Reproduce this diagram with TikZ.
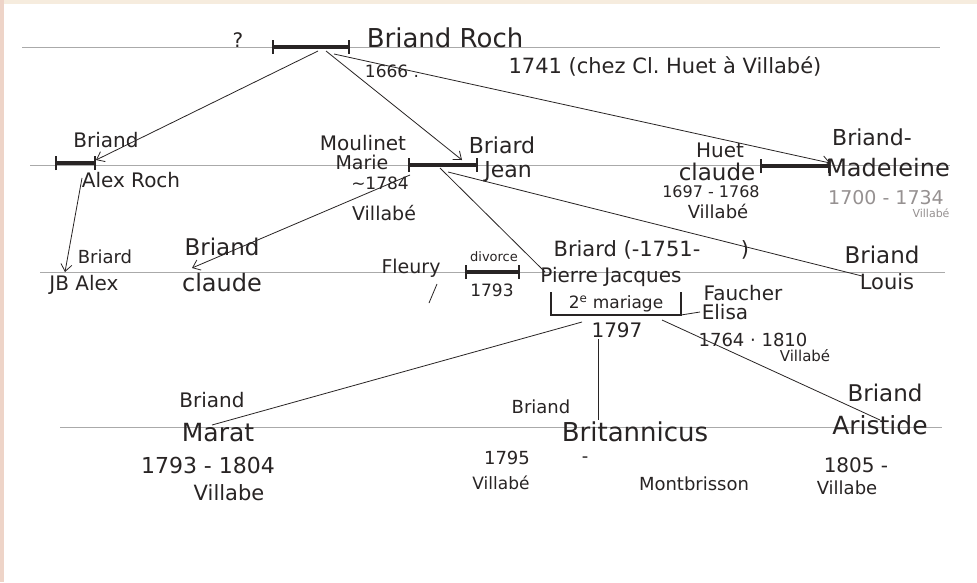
\documentclass[tikz,border=0pt]{standalone}
\usepackage{fontspec}
\setmainfont{DejaVu Sans}
\usetikzlibrary{arrows.meta}
\definecolor{paper}{RGB}{255,255,255}
\definecolor{edgeA}{RGB}{238,212,200}
\definecolor{edgeB}{RGB}{246,236,222}
\definecolor{guide}{RGB}{170,170,170}
\definecolor{ink}{RGB}{40,36,36}
\definecolor{faded}{RGB}{150,145,145}
\tikzset{
  nm/.style={inner sep=0pt, text=ink},
  fs/.style={font=\fontsize{#1}{#1}\selectfont},
  guideline/.style={draw=guide, line width=0.6pt},
  mbar/.style={draw=ink, line width=3.6pt, {Bar[width=14pt,line width=2.2pt]}-{Bar[width=14pt,line width=2.2pt]}},
  link/.style={draw=ink, line width=0.8pt},
  arr/.style={link, -{Straight Barb[length=7pt,width=11pt]}}
}
\begin{document}
\begin{tikzpicture}[x=1pt,y=-1pt]
\useasboundingbox (0,0) rectangle (977,582);
\fill[paper] (0,0) rectangle (977,582);
\fill[edgeB] (0,0) rectangle (977,4);
\fill[edgeA] (0,0) rectangle (4,582);
% guide lines
\draw[guideline] (22,47) -- (940,47);
\draw[guideline] (30,165) -- (950,165);
\draw[guideline] (40,272) -- (945,272);
\draw[guideline] (60,427) -- (942,427);
% ---- level 1
\node[nm, fs=20] (q) at (238,40) {?};
\coordinate (b0l) at (272,47); \coordinate (b0r) at (350,47);
\draw[mbar] (b0l) -- (b0r);
\coordinate (r0a) at (318,51); \coordinate (r0b) at (326,51); \coordinate (r0c) at (334,54);
\node[nm, fs=26] (roch) at (445,38) {Briand Roch};
\node[nm, fs=17] (rochb) at (392,71) {1666 .};
\node[nm, fs=21] (rochd) at (665,66) {1741 (chez Cl.\ Huet à Villabé)};
% ---- level 2
\coordinate (abl) at (55,163); \coordinate (abr) at (96,163);
\draw[mbar] (abl) -- (abr);
\coordinate (aend) at (96,160);
\node[nm, fs=20] (alexn) at (106,140) {Briand};
\node[nm, fs=20] (alex) at (131,180) {Alex Roch};
\coordinate (alexs) at (82,178);
\node[nm, fs=20] (moul) at (363,143) {Moulinet};
\node[nm, fs=19] (marie) at (362,162) {Marie};
\node[nm, fs=17] (md) at (380,183) {\char"007E 1784};
\node[nm, fs=19] (mv) at (384,213) {Villabé};
\coordinate (jbl) at (408,165); \coordinate (jbr) at (478,165);
\draw[mbar] (jbl) -- (jbr);
\coordinate (jend) at (462,160);
\coordinate (j1) at (410,175); \coordinate (j2) at (440,168); \coordinate (j3) at (448,172);
\node[nm, fs=22] (jeann) at (502,145) {Briard};
\node[nm, fs=22] (jean) at (508,172) {Jean};
\node[nm, fs=20] (huet) at (720,150) {Huet};
\node[nm, fs=23] (huetc) at (717,172) {claude};
\node[nm, fs=16] (huetd) at (711,192) {1697 - 1768};
\node[nm, fs=18] (huetv) at (718,211) {Villabé};
\coordinate (hbl) at (760,166); \coordinate (hbr) at (830,166);
\draw[mbar] (hbl) -- (hbr);
\coordinate (mend) at (830,163);
\node[nm, fs=22] (madn) at (872,137) {Briand-};
\node[nm, fs=24] (mad) at (888,168) {Madeleine};
\node[nm, fs=19, text=faded] (madd) at (886,198) {1700 - 1734};
\node[nm, fs=11, text=faded] (madv) at (931,213) {Villabé};
% ---- level 3
\node[nm, fs=18] (jbn) at (105,257) {Briard};
\node[nm, fs=20] (jb) at (84,285) {JB Alex};
\coordinate (jbend) at (65,272);
\node[nm, fs=23] (cln) at (222,247) {Briand};
\node[nm, fs=24] (cl) at (222,283) {claude};
\coordinate (clend) at (192,268);
\node[nm, fs=19] (fl) at (411,268) {Fleury};
\coordinate (fla) at (437,284); \coordinate (flb) at (429,303);
\coordinate (dbl) at (465,272); \coordinate (dbr) at (520,272);
\draw[mbar] (dbl) -- (dbr);
\node[nm, fs=13] (div) at (494,257) {divorce};
\node[nm, fs=17] (divd) at (492,290) {1793};
\node[nm, fs=21] (pjn) at (627,250) {Briard (-1751-};
\node[nm, fs=21] (pjc) at (745,250) {)};
\node[nm, fs=20] (pj) at (611,277) {Pierre Jacques};
\coordinate (pjend) at (545,272);
\coordinate (bkl) at (551,292); \coordinate (bkr) at (681,292);
\coordinate (bkbl) at (551,315); \coordinate (bkbr) at (681,315);
\draw[link, line width=1.4pt] (bkl) -- (bkbl) -- (bkbr) -- (bkr);
\node[nm, fs=17] (mar) at (616,304) {2\textsuperscript{e} mariage};
\coordinate (bkx) at (700,312);
\draw[link] (bkbr) -- (bkx);
\node[nm, fs=20] (mard) at (617,330) {1797};
\node[nm, fs=20] (fau) at (743,293) {Faucher};
\node[nm, fs=20] (eli) at (725,312) {Elisa};
\node[nm, fs=18] (elid) at (753,340) {1764 · 1810};
\node[nm, fs=15] (eliv) at (805,356) {Villabé};
\node[nm, fs=23] (loun) at (882,255) {Briand};
\node[nm, fs=21] (lou) at (887,282) {Louis};
\coordinate (louend) at (862,276);
\coordinate (c1) at (582,322); \coordinate (c2) at (598,339); \coordinate (c3) at (662,320);
% ---- level 4
\node[nm, fs=20] (marn) at (212,400) {Briand};
\node[nm, fs=25] (mara) at (218,433) {Marat};
\node[nm, fs=22] (marad) at (208,465) {1793 - 1804};
\node[nm, fs=21] (marav) at (229,493) {Villabe};
\coordinate (maraend) at (212,425);
\node[nm, fs=18] (brn) at (541,407) {Briand};
\node[nm, fs=26] (bri) at (635,432) {Britannicus};
\node[nm, fs=18] (brid) at (507,458) {1795};
\node[nm, fs=18] (bridash) at (585,460) {-};
\node[nm, fs=17] (briv) at (501,483) {Villabé};
\coordinate (briend) at (598,420);
\node[nm, fs=18] (mont) at (694,484) {Montbrisson};
\node[nm, fs=23] (arn) at (885,393) {Briand};
\node[nm, fs=25] (ari) at (880,425) {Aristide};
\node[nm, fs=20] (arid) at (856,465) {1805 -};
\node[nm, fs=18] (ariv) at (847,488) {Villabe};
\coordinate (ariend) at (880,420);
% ---- connectors
\draw[arr] (r0a) -- (aend);
\draw[arr] (r0b) -- (jend);
\draw[arr] (r0c) -- (mend);
\draw[arr] (alexs) -- (jbend);
\draw[arr] (j1) -- (clend);
\draw[link] (j2) -- (pjend);
\draw[link] (j3) -- (louend);
\draw[link] (fla) -- (flb);
\draw[link] (c1) -- (maraend);
\draw[link] (c2) -- (briend);
\draw[link] (c3) -- (ariend);
\end{tikzpicture}
\end{document}
